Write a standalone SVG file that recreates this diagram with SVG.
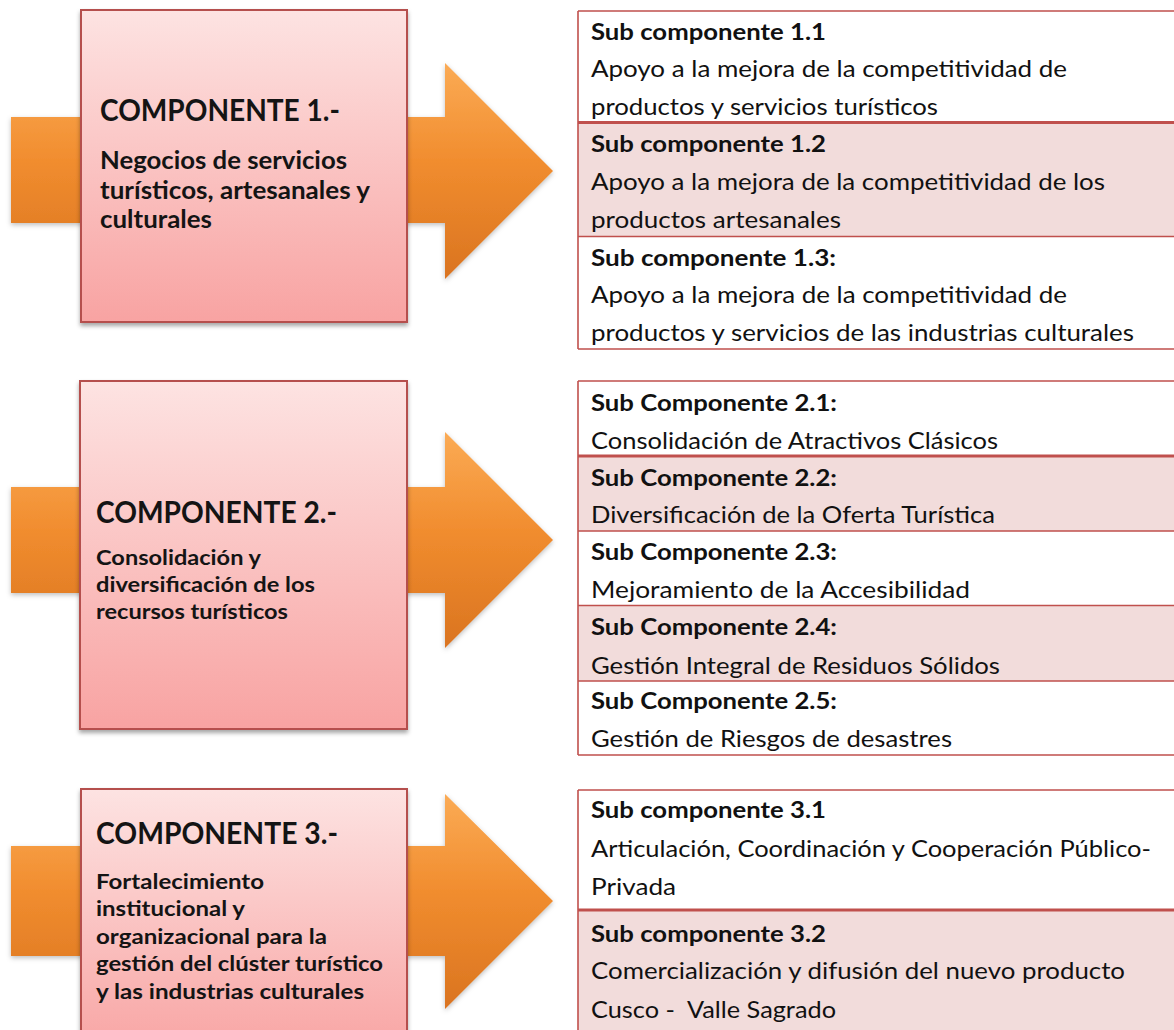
<svg xmlns="http://www.w3.org/2000/svg" width="1174" height="1030" viewBox="0 0 1174 1030">
<style>
.box{fill:url(#boxGrad);stroke:#b5504d;stroke-width:2;filter:url(#shadow)}
.arrow{fill:url(#arrowGrad);filter:url(#ashadow)}
.h{font-family:Lato,"Open Sans",sans-serif;font-weight:700;fill:#141414}
.hc{font-size:30px}
.d1{font-size:24px}
.d2{font-size:21px}
.tb{font-family:Lato,"Open Sans",sans-serif;font-weight:700;font-size:23.5px;fill:#111}
.tr{font-family:Lato,"Open Sans",sans-serif;font-weight:400;font-size:23.5px;fill:#111}
.rw{fill:#ffffff}
.rp{fill:#f2dcdb}
.ln{stroke:#c0504d;stroke-width:1.6;fill:none}
.lk{stroke:#c0504d;stroke-width:3.2;fill:none}
</style>
<defs>
<linearGradient id="boxGrad" x1="0" y1="0" x2="0" y2="1">
<stop offset="0" stop-color="#fde3e2"/>
<stop offset="1" stop-color="#f8a3a2"/>
</linearGradient>
<linearGradient id="arrowGrad" x1="0" y1="0" x2="0" y2="1">
<stop offset="0" stop-color="#fbab55"/>
<stop offset="0.45" stop-color="#f18d2f"/>
<stop offset="1" stop-color="#da7420"/>
</linearGradient>
<filter id="shadow" x="-5%" y="-5%" width="115%" height="115%">
<feDropShadow dx="0" dy="3" stdDeviation="2" flood-color="#000" flood-opacity="0.35"/>
</filter>
<filter id="ashadow" x="-5%" y="-5%" width="115%" height="115%">
<feDropShadow dx="0" dy="2" stdDeviation="2.5" flood-color="#000" flood-opacity="0.25"/>
</filter>
</defs>
<rect width="1174" height="1030" fill="#ffffff"/>

<g id="connectors">
<path class="arrow" d="M11,117 H445 V63 L553,171 L445,279 V223 H11 Z"/>
<path class="arrow" d="M11,487 H445 V432 L553,540 L445,648 V593 H11 Z"/>
<path class="arrow" d="M11,846 H445 V794 L553,901 L445,1009 V956 H11 Z"/>
</g>

<g id="comp1">
<rect class="box" x="81" y="10" width="326" height="312"/>
<text class="h hc" x="100" y="121" textLength="240" lengthAdjust="spacingAndGlyphs">COMPONENTE 1.-</text>
<text class="h d1" x="100" y="169" textLength="247" lengthAdjust="spacingAndGlyphs">Negocios de servicios</text>
<text class="h d1" x="100" y="199" textLength="270" lengthAdjust="spacingAndGlyphs">turísticos, artesanales y</text>
<text class="h d1" x="100" y="228" textLength="112" lengthAdjust="spacingAndGlyphs">culturales</text>
</g>

<g id="comp2">
<rect class="box" x="80" y="381" width="327" height="348"/>
<text class="h hc" x="96" y="523" textLength="241" lengthAdjust="spacingAndGlyphs">COMPONENTE 2.-</text>
<text class="h d2" x="96" y="565" textLength="165" lengthAdjust="spacingAndGlyphs">Consolidación y</text>
<text class="h d2" x="96" y="592" textLength="219" lengthAdjust="spacingAndGlyphs">diversificación  de los</text>
<text class="h d2" x="96" y="619" textLength="192" lengthAdjust="spacingAndGlyphs">recursos turísticos</text>
</g>

<g id="comp3">
<rect class="box" x="81" y="789" width="326" height="270"/>
<text class="h hc" x="96" y="844" textLength="242" lengthAdjust="spacingAndGlyphs">COMPONENTE 3.-</text>
<text class="h d2" x="96" y="889" textLength="168" lengthAdjust="spacingAndGlyphs">Fortalecimiento</text>
<text class="h d2" x="96" y="916" textLength="149" lengthAdjust="spacingAndGlyphs">institucional y</text>
<text class="h d2" x="96" y="944" textLength="231" lengthAdjust="spacingAndGlyphs">organizacional para la</text>
<text class="h d2" x="96" y="971" textLength="287" lengthAdjust="spacingAndGlyphs">gestión del clúster turístico</text>
<text class="h d2" x="96" y="999" textLength="268" lengthAdjust="spacingAndGlyphs">y las industrias culturales</text>
</g>

<g id="subs1">
<rect class="rw" x="578" y="11" width="600" height="111.5"/>
<rect class="rp" x="578" y="122.5" width="600" height="114"/>
<rect class="rw" x="578" y="236.5" width="600" height="112.5"/>
<path class="ln" d="M578,11 H1180 M578,236.5 H1180 M578,349 H1180 M578,11 V349"/>
<path class="lk" d="M578,122.5 H1180"/>
<text class="tb" x="591" y="40" textLength="235" lengthAdjust="spacingAndGlyphs">Sub componente 1.1</text>
<text class="tr" x="591" y="77" textLength="476" lengthAdjust="spacingAndGlyphs">Apoyo a la mejora de la competitividad de</text>
<text class="tr" x="591" y="115" textLength="347" lengthAdjust="spacingAndGlyphs">productos y servicios turísticos</text>
<text class="tb" x="591" y="152" textLength="235" lengthAdjust="spacingAndGlyphs">Sub componente 1.2</text>
<text class="tr" x="591" y="190" textLength="514" lengthAdjust="spacingAndGlyphs">Apoyo a la mejora de la competitividad de los</text>
<text class="tr" x="591" y="228" textLength="250" lengthAdjust="spacingAndGlyphs">productos artesanales</text>
<text class="tb" x="591" y="266" textLength="245" lengthAdjust="spacingAndGlyphs">Sub componente 1.3:</text>
<text class="tr" x="591" y="303" textLength="476" lengthAdjust="spacingAndGlyphs">Apoyo a la mejora de la competitividad de</text>
<text class="tr" x="591" y="341" textLength="543" lengthAdjust="spacingAndGlyphs">productos y servicios de las industrias culturales</text>
</g>

<g id="subs2">
<rect class="rw" x="578" y="381" width="600" height="75"/>
<rect class="rp" x="578" y="456" width="600" height="75"/>
<rect class="rw" x="578" y="531" width="600" height="74.5"/>
<rect class="rp" x="578" y="605.5" width="600" height="75.5"/>
<rect class="rw" x="578" y="681" width="600" height="74"/>
<path class="ln" d="M578,381 H1180 M578,531 H1180 M578,605.5 H1180 M578,681 H1180 M578,755 H1180 M578,381 V755"/>
<path class="lk" d="M578,456 H1180"/>
<text class="tb" x="591" y="411" textLength="246" lengthAdjust="spacingAndGlyphs">Sub Componente 2.1:</text>
<text class="tr" x="591" y="449" textLength="407" lengthAdjust="spacingAndGlyphs">Consolidación de Atractivos Clásicos</text>
<text class="tb" x="591" y="486" textLength="246" lengthAdjust="spacingAndGlyphs">Sub Componente 2.2:</text>
<text class="tr" x="591" y="523" textLength="404" lengthAdjust="spacingAndGlyphs">Diversificación de la Oferta Turística</text>
<text class="tb" x="591" y="560" textLength="246" lengthAdjust="spacingAndGlyphs">Sub Componente 2.3:</text>
<text class="tr" x="591" y="598" textLength="379" lengthAdjust="spacingAndGlyphs">Mejoramiento de la Accesibilidad</text>
<text class="tb" x="591" y="635" textLength="246" lengthAdjust="spacingAndGlyphs">Sub Componente 2.4:</text>
<text class="tr" x="591" y="674" textLength="409" lengthAdjust="spacingAndGlyphs">Gestión Integral de Residuos Sólidos</text>
<text class="tb" x="591" y="709" textLength="246" lengthAdjust="spacingAndGlyphs">Sub Componente 2.5:</text>
<text class="tr" x="591" y="747" textLength="361" lengthAdjust="spacingAndGlyphs">Gestión de Riesgos de desastres</text>
</g>

<g id="subs3">
<rect class="rw" x="578" y="790" width="600" height="120"/>
<rect class="rp" x="578" y="910" width="600" height="130"/>
<path class="ln" d="M578,790 H1180 M578,790 V1040"/>
<path class="lk" d="M578,910 H1180"/>
<text class="tb" x="591" y="818" textLength="235" lengthAdjust="spacingAndGlyphs">Sub componente 3.1</text>
<text class="tr" x="591" y="857" textLength="560" lengthAdjust="spacingAndGlyphs">Articulación, Coordinación y Cooperación Público-</text>
<text class="tr" x="591" y="895" textLength="85" lengthAdjust="spacingAndGlyphs">Privada</text>
<text class="tb" x="591" y="942" textLength="235" lengthAdjust="spacingAndGlyphs">Sub componente 3.2</text>
<text class="tr" x="591" y="979" textLength="534" lengthAdjust="spacingAndGlyphs">Comercialización y difusión del nuevo producto</text>
<text class="tr" x="591" y="1018" textLength="245" lengthAdjust="spacingAndGlyphs" style="white-space:pre">Cusco -  Valle Sagrado</text>
</g>
</svg>
